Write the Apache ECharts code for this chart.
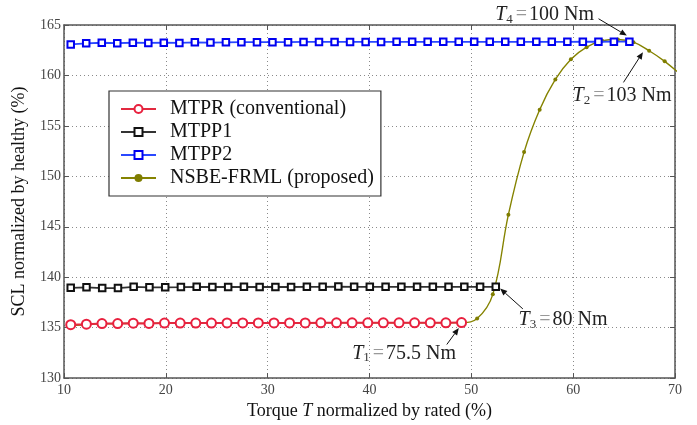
<!DOCTYPE html>
<html>
<head>
<meta charset="utf-8">
<script src="https://cdn.jsdelivr.net/npm/echarts@6/dist/echarts.min.js"></script>
<style>
html, body { margin: 0; padding: 0; background: #fff; }
#scl { width: 697px; height: 425px; }
</style>
</head>
<body>
<div id="scl"></div>
<script>
// torque (% of rated) for each method
var xMtpr = [10.66, 12.20, 13.73, 15.27, 16.80, 18.34, 19.87, 21.41, 22.94, 24.48, 26.01, 27.55, 29.08,
    30.62, 32.15, 33.69, 35.22, 36.76, 38.29, 39.83, 41.36, 42.90, 44.43, 45.97, 47.50, 49.04];
var yMtpr = [135.30, 135.35, 135.40, 135.40, 135.44, 135.42, 135.45, 135.45, 135.45, 135.45, 135.47, 135.47, 135.47,
    135.47, 135.47, 135.47, 135.48, 135.48, 135.48, 135.48, 135.48, 135.48, 135.48, 135.48, 135.48, 135.50];

var xMtpp1 = [10.66, 12.21, 13.75, 15.30, 16.84, 18.39, 19.94, 21.48, 23.03, 24.57, 26.12, 27.67, 29.21, 30.76,
    32.30, 33.85, 35.40, 36.94, 38.49, 40.03, 41.58, 43.13, 44.67, 46.22, 47.76, 49.31, 50.86, 52.40];
var yMtpp1 = [138.95, 139.00, 138.92, 138.92, 139.05, 139.00, 139.00, 139.02, 139.05, 139.03, 139.03, 139.05, 139.03, 139.03,
    139.03, 139.05, 139.05, 139.07, 139.05, 139.05, 139.05, 139.05, 139.05, 139.05, 139.05, 139.05, 139.05, 139.05];

var xMtpp2 = [10.66, 12.18, 13.71, 15.23, 16.76, 18.28, 19.80, 21.33, 22.85, 24.38, 25.90, 27.42, 28.95, 30.47,
    32.00, 33.52, 35.04, 36.57, 38.09, 39.62, 41.14, 42.66, 44.19, 45.71, 47.24, 48.76, 50.28, 51.81,
    53.33, 54.86, 56.38, 57.90, 59.43, 60.95, 62.48, 64.00, 65.52];
var yMtpp2 = [163.07, 163.18, 163.24, 163.20, 163.24, 163.22, 163.25, 163.22, 163.28, 163.26, 163.28, 163.30, 163.30, 163.30,
    163.30, 163.32, 163.32, 163.32, 163.32, 163.32, 163.32, 163.33, 163.33, 163.33, 163.33, 163.33, 163.33, 163.33,
    163.33, 163.33, 163.33, 163.33, 163.33, 163.34, 163.34, 163.35, 163.35];

var xNsbe = [10.66, 12.20, 13.73, 15.27, 16.80, 18.34, 19.87, 21.41, 22.94, 24.48, 26.01, 27.55, 29.08,
    30.62, 32.15, 33.69, 35.22, 36.76, 38.29, 39.83, 41.36, 42.90, 44.43, 45.97, 47.50, 49.04,
    50.57, 52.11, 53.64, 55.18, 56.71, 58.25, 59.78, 61.32, 62.85, 64.39, 65.92, 67.46, 68.99, 70.53];
var yNsbe = [135.20, 135.30, 135.38, 135.40, 135.43, 135.42, 135.45, 135.45, 135.45, 135.45, 135.46, 135.46, 135.46,
    135.46, 135.46, 135.46, 135.47, 135.47, 135.47, 135.47, 135.47, 135.47, 135.47, 135.47, 135.48, 135.50,
    135.90, 138.30, 146.20, 152.40, 156.60, 159.60, 161.60, 162.80, 163.43, 163.56, 163.30, 162.45, 161.40, 160.10];

var seriesNames = ['MTPR (conventional)', 'MTPP1', 'MTPP2', 'NSBE-FRML (proposed)'];

// annotations: subscript, value text, label centre, arrow tail, arrow head (data coords)
var annoSub = ['4', '2', '3', '1'];
var annoVal = ['100 Nm', '103 Nm', '80 Nm', '75.5 Nm'];
var annoPos = [[57.2, 166.0], [64.8, 158.0], [59.0, 135.75], [43.4, 132.45]];
var annoFrom = [[62.49, 165.62], [64.94, 159.31], [55.06, 136.86], [47.59, 133.33]];
var annoTo = [[65.27, 163.95], [66.85, 162.31], [52.83, 138.88], [48.77, 134.96]];

var serif = 'Liberation Serif';

function pairs(xs, ys) {
    var out = [];
    for (var i = 0; i < xs.length; i++) {
        out.push([xs[i], ys[i]]);
    }
    return out;
}

var chart = echarts.init(document.getElementById('scl'));

var gridLine = {show: true, lineStyle: {color: '#8a8a8a', type: [1, 3], width: 1}};
var frameLine = {show: true, lineStyle: {color: '#555', width: 1.5}};

var option = {
    animation: false,
    backgroundColor: '#fff',
    grid: {left: 64, right: 22, top: 25, bottom: 44, containLabel: false},
    legend: {
        orient: 'vertical',
        left: 109,
        top: 91,
        data: seriesNames,
        backgroundColor: '#fff',
        borderColor: '#333',
        borderWidth: 1.2,
        borderRadius: 0,
        padding: [8, 7, 8, 11],
        itemWidth: 35,
        itemHeight: 10,
        itemGap: 3,
        textStyle: {fontFamily: serif, fontSize: 20, color: '#111', lineHeight: 20, padding: [0, 0, 0, 9]}
    },
    xAxis: [{
        type: 'value',
        min: 10,
        max: 70,
        interval: 10,
        name: 'Torque {i|T} normalized by rated (%)',
        nameLocation: 'middle',
        nameGap: 21,
        nameTextStyle: {fontFamily: serif, fontSize: 18, color: '#111', rich: {i: {fontFamily: serif, fontSize: 18, fontStyle: 'italic', color: '#111'}}},
        axisLine: frameLine,
        axisTick: {show: true, inside: true, length: 5, lineStyle: {color: '#555'}},
        axisLabel: {fontFamily: serif, fontSize: 14, color: '#444', margin: 5},
        splitLine: gridLine
    }, {
        type: 'value',
        position: 'top',
        min: 10,
        max: 70,
        interval: 10,
        axisLine: frameLine,
        axisTick: {show: true, inside: true, length: 5, lineStyle: {color: '#555'}},
        axisLabel: {show: false},
        splitLine: {show: false}
    }],
    yAxis: [{
        type: 'value',
        min: 130,
        max: 165,
        interval: 5,
        name: 'SCL normalized by healthy (%)',
        nameLocation: 'middle',
        nameGap: 36,
        nameTextStyle: {fontFamily: serif, fontSize: 18, color: '#111'},
        axisLine: frameLine,
        axisTick: {show: true, inside: true, length: 5, lineStyle: {color: '#555'}},
        axisLabel: {fontFamily: serif, fontSize: 14, color: '#444', margin: 3},
        splitLine: gridLine
    }, {
        type: 'value',
        position: 'right',
        min: 130,
        max: 165,
        interval: 5,
        axisLine: frameLine,
        axisTick: {show: true, inside: true, length: 5, lineStyle: {color: '#555'}},
        axisLabel: {show: false},
        splitLine: {show: false}
    }],
    series: [
        {
            name: seriesNames[0],
            type: 'line',
            z: 4,
            data: pairs(xMtpr, yMtpr),
            symbol: 'emptyCircle',
            symbolSize: 9,
            itemStyle: {color: '#e8203e', borderWidth: 1.3},
            lineStyle: {color: '#e2293f', width: 2}
        },
        {
            name: seriesNames[1],
            type: 'line',
            z: 3,
            data: pairs(xMtpp1, yMtpp1),
            symbol: 'emptyRect',
            symbolSize: 6.5,
            itemStyle: {color: '#111', borderWidth: 1.3},
            lineStyle: {color: '#333', width: 1.8}
        },
        {
            name: seriesNames[2],
            type: 'line',
            z: 3,
            data: pairs(xMtpp2, yMtpp2),
            symbol: 'emptyRect',
            symbolSize: 6.5,
            itemStyle: {color: '#0000f0', borderWidth: 1.3},
            lineStyle: {color: '#2a48ff', width: 1.8}
        },
        {
            name: seriesNames[3],
            type: 'line',
            z: 2,
            data: pairs(xNsbe, yNsbe),
            smooth: 0.4,
            symbol: 'circle',
            symbolSize: 4,
            itemStyle: {color: '#7f7d00'},
            lineStyle: {color: '#858300', width: 1.4}
        }
    ]
};

chart.setOption(option);

// arrows and T labels, placed through the grid's own scale
var graphics = [];
for (var i = 0; i < annoSub.length; i++) {
    var c = chart.convertToPixel({gridIndex: 0}, annoPos[i]);
    graphics.push({
        type: 'text',
        x: c[0],
        y: c[1],
        z: 100,
        style: {
            text: '{t|T}{s|' + annoSub[i] + '}{e|=}{n|' + annoVal[i] + '}',
            align: 'center',
            verticalAlign: 'middle',
            rich: {
                t: {fontFamily: serif, fontSize: 20, fontStyle: 'italic', fill: '#222'},
                s: {fontFamily: serif, fontSize: 13, fill: '#333', padding: [9, 1, 0, 0]},
                e: {fontFamily: serif, fontSize: 20, fill: '#999', padding: [0, 2, 0, 2]},
                n: {fontFamily: serif, fontSize: 20, fill: '#222'}
            }
        }
    });
    var p0 = chart.convertToPixel({gridIndex: 0}, annoFrom[i]);
    var p1 = chart.convertToPixel({gridIndex: 0}, annoTo[i]);
    var dx = p1[0] - p0[0], dy = p1[1] - p0[1];
    var len = Math.sqrt(dx * dx + dy * dy);
    var ux = dx / len, uy = dy / len;
    var hl = 7, hw = 3;
    var bx = p1[0] - ux * hl, by = p1[1] - uy * hl;
    graphics.push({
        type: 'line',
        z: 100,
        shape: {x1: p0[0], y1: p0[1], x2: bx, y2: by},
        style: {stroke: '#111', lineWidth: 1}
    });
    graphics.push({
        type: 'polygon',
        z: 100,
        shape: {points: [[p1[0], p1[1]], [bx - uy * hw, by + ux * hw], [bx + uy * hw, by - ux * hw]]},
        style: {fill: '#111'}
    });
}
chart.setOption({graphic: graphics});
</script>
</body>
</html>
